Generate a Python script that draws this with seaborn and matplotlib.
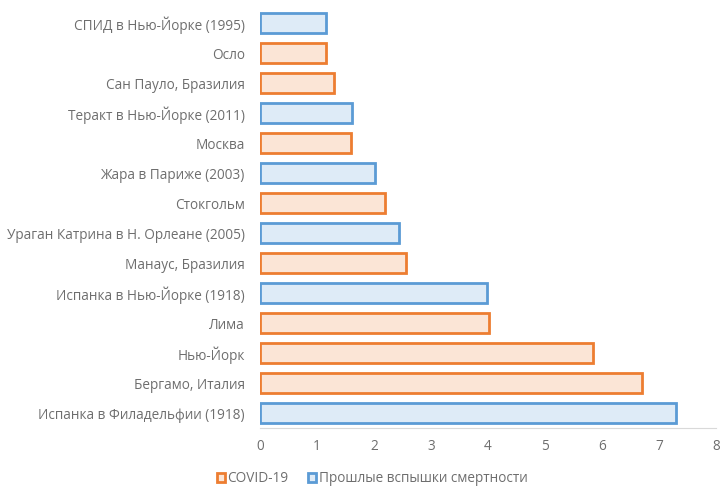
import matplotlib
matplotlib.use("Agg")
import matplotlib.pyplot as plt
import seaborn as sns
import pandas as pd
from matplotlib.patches import Patch

categories = [
    "СПИД в Нью-Йорке (1995)", "Осло", "Сан Пауло, Бразилия",
    "Теракт в Нью-Йорке (2011)", "Москва", "Жара в Париже (2003)",
    "Стокгольм", "Ураган Катрина в Н. Орлеане (2005)", "Манаус, Бразилия",
    "Испанка в Нью-Йорке (1918)", "Лима", "Нью-Йорк", "Бергамо, Италия",
    "Испанка в Филадельфии (1918)",
]
values = [1.16, 1.15, 1.30, 1.62, 1.60, 2.02, 2.20, 2.44, 2.57, 3.98, 4.01, 5.85, 6.70, 7.30]
groups = ["past", "covid", "covid", "past", "covid", "past", "covid", "past",
          "covid", "past", "covid", "covid", "covid", "past"]
legend_labels = {"covid": "COVID-19", "past": "Прошлые вспышки смертности"}
xticks = [0, 1, 2, 3, 4, 5, 6, 7, 8]

fill = {"covid": "#FBE5D6", "past": "#DEEBF7"}
edge = {"covid": "#ED7D31", "past": "#5B9BD5"}
text_color = "#6E6E6E"

df = pd.DataFrame({"cat": categories, "val": values, "grp": groups})

sns.set_theme(style="white")
plt.rcParams["font.family"] = ["Open Sans", "DejaVu Sans"]
fig = plt.figure(figsize=(7.21, 4.88), dpi=100)
ax = fig.add_axes([260/721, 1 - 428/488, (716-260)/721, (428-8)/488])

sns.barplot(data=df, y="cat", x="val", hue="grp", order=categories,
            hue_order=["covid", "past"], palette=fill, dodge=False, saturation=1,
            width=0.66, ax=ax, legend=False, orient="h")

for p in ax.patches:
    if p.get_width() <= 0:
        continue
    idx = int(round(p.get_y() + p.get_height() / 2))
    g = groups[idx]
    p.set_facecolor(fill[g])
    p.set_edgecolor(edge[g])
    p.set_linewidth(2.0)

ax.set_xlim(0, 8)
ax.set_xticks(xticks)
ax.set_ylim(len(categories) - 0.5, -0.5)
ax.set_xlabel("")
ax.set_ylabel("")
for s in ["top", "right", "left"]:
    ax.spines[s].set_visible(False)
ax.spines["bottom"].set_color("#D9D9D9")
ax.spines["bottom"].set_linewidth(0.8)
ax.tick_params(axis="both", length=0, colors=text_color, labelsize=9.8)
ax.tick_params(axis="x", pad=8)
ax.tick_params(axis="y", pad=11)

handles = [Patch(facecolor=fill[k], edgecolor=edge[k], linewidth=2.0, label=legend_labels[k])
           for k in ["covid", "past"]]
leg = fig.legend(handles=handles, loc="center", bbox_to_anchor=(372/721, 1 - 479/488),
                 ncol=2, frameon=False, fontsize=9.8, handlelength=0.6, handleheight=0.6,
                 handletextpad=0.2, columnspacing=1.4)
for t in leg.get_texts():
    t.set_color(text_color)

fig.savefig("out.png", dpi=100)
